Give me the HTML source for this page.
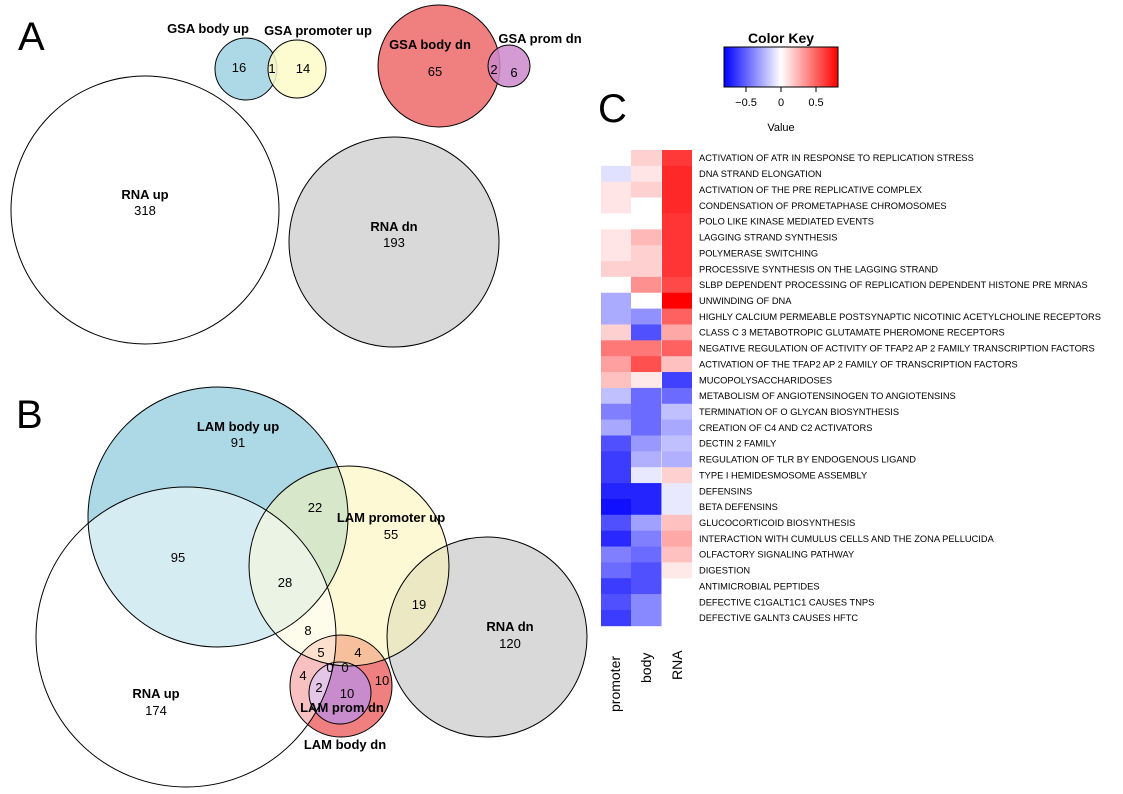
<!DOCTYPE html>
<html><head><meta charset="utf-8"><style>
html,body{margin:0;padding:0;background:#fff}
svg{display:block;font-family:"Liberation Sans",sans-serif}
</style></head><body>
<svg width="1123" height="794" viewBox="0 0 1123 794" xmlns="http://www.w3.org/2000/svg">
<defs><linearGradient id="ck" x1="0" x2="1" y1="0" y2="0">
<stop offset="0" stop-color="#0000ff"/><stop offset="0.5" stop-color="#ffffff"/><stop offset="1" stop-color="#ff0000"/></linearGradient></defs>
<g font-size="40"><text x="18" y="50">A</text><text x="16" y="428">B</text><text x="598" y="122">C</text></g>

<!-- Panel A -->
<g stroke="#000" stroke-width="1">
<circle cx="145" cy="210" r="134" fill="#fff"/>
<circle cx="394" cy="242" r="105" fill="#d9d9d9"/>
<circle cx="246" cy="69" r="31" fill="#add8e6"/>
<circle cx="297" cy="69" r="29" fill="#fdfac8" fill-opacity="0.85"/>
<circle cx="439" cy="66" r="61" fill="#f08080"/>
<circle cx="509" cy="66" r="21" fill="#cc88cc" fill-opacity="0.85"/>
</g>
<g font-size="13" text-anchor="middle">
<text x="208" y="33" font-weight="bold">GSA body up</text>
<text x="318" y="35" font-weight="bold">GSA promoter up</text>
<text x="239" y="72">16</text><text x="272" y="73">1</text><text x="303" y="73">14</text>
<text x="430" y="49" font-weight="bold">GSA body dn</text>
<text x="540" y="43" font-weight="bold">GSA prom dn</text>
<text x="435" y="76">65</text><text x="494" y="74">2</text><text x="514" y="77">6</text>
<text x="145" y="199" font-weight="bold">RNA up</text><text x="145" y="215">318</text>
<text x="394" y="231" font-weight="bold">RNA dn</text><text x="394" y="247">193</text>
</g>

<!-- Panel B -->
<circle cx="218" cy="517" r="130" fill="#add8e6"/>
<circle cx="487" cy="637" r="100" fill="#d9d9d9"/>
<circle cx="341" cy="686" r="51" fill="#f08080"/>
<circle cx="340" cy="693" r="31" fill="#c88ccc"/>
<circle cx="349" cy="566" r="100" fill="#faf4b0" fill-opacity="0.55"/>
<circle cx="186" cy="637" r="150" fill="#fff" fill-opacity="0.5"/>
<g stroke="#000" stroke-width="1" fill="none">
<circle cx="218" cy="517" r="130"/>
<circle cx="487" cy="637" r="100"/>
<circle cx="341" cy="686" r="51"/>
<circle cx="340" cy="693" r="31"/>
<circle cx="349" cy="566" r="100"/>
<circle cx="186" cy="637" r="150"/>
</g>
<g font-size="13" text-anchor="middle">
<text x="238" y="431" font-weight="bold">LAM body up</text><text x="238" y="447">91</text>
<text x="391" y="522" font-weight="bold">LAM promoter up</text><text x="391" y="539">55</text>
<text x="315" y="512">22</text><text x="178" y="562">95</text><text x="285" y="587">28</text>
<text x="419" y="609">19</text><text x="308" y="635">8</text>
<text x="510" y="631" font-weight="bold">RNA dn</text><text x="510" y="648">120</text>
<text x="156" y="698" font-weight="bold">RNA up</text><text x="156" y="715">174</text>
<text x="321" y="657">5</text><text x="358" y="657">4</text>
<text x="330" y="672">0</text><text x="345" y="672">0</text>
<text x="303" y="680">4</text><text x="319" y="692">2</text><text x="347" y="698">10</text><text x="382" y="685">10</text>
<text x="342" y="712" font-weight="bold">LAM prom dn</text>
<text x="345" y="749" font-weight="bold">LAM body dn</text>
</g>

<!-- Color key -->
<text x="781" y="43" font-size="14" font-weight="bold" text-anchor="middle">Color Key</text>
<rect x="724" y="47" width="114" height="40" fill="url(#ck)" stroke="#000"/>
<g stroke="#000"><line x1="746" y1="87" x2="746" y2="92"/><line x1="781" y1="87" x2="781" y2="92"/><line x1="816" y1="87" x2="816" y2="92"/></g>
<g font-size="11" text-anchor="middle"><text x="746" y="106">−0.5</text><text x="781" y="106">0</text><text x="816" y="106">0.5</text><text x="781" y="131">Value</text></g>

<!-- Heatmap -->
<g id="hm"></g>
<g font-size="9.3" id="lab"></g>
<g font-size="14" text-anchor="start">
<text transform="translate(620,712) rotate(-90)">promoter</text>
<text transform="translate(651,683) rotate(-90)">body</text>
<text transform="translate(682,680) rotate(-90)">RNA</text>
</g>
<script>
var d=[
["ACTIVATION OF ATR IN RESPONSE TO REPLICATION STRESS","#fff","#ffd0d0","#ff3838"],
["DNA STRAND ELONGATION","#e0e0ff","#ffe5e5","#ff2828"],
["ACTIVATION OF THE PRE REPLICATIVE COMPLEX","#ffe5e5","#ffd0d0","#ff2828"],
["CONDENSATION OF PROMETAPHASE CHROMOSOMES","#ffe5e5","#fff","#ff2828"],
["POLO LIKE KINASE MEDIATED EVENTS","#fff","#fff","#ff3535"],
["LAGGING STRAND SYNTHESIS","#ffe5e5","#ffb8b8","#ff3535"],
["POLYMERASE SWITCHING","#ffe5e5","#ffd0d0","#ff3535"],
["PROCESSIVE SYNTHESIS ON THE LAGGING STRAND","#ffd0d0","#ffd0d0","#ff3535"],
["SLBP DEPENDENT PROCESSING OF REPLICATION DEPENDENT HISTONE PRE MRNAS","#fff","#ff9090","#ff4848"],
["UNWINDING OF DNA","#aaaaff","#fff","#ff0000"],
["HIGHLY CALCIUM PERMEABLE POSTSYNAPTIC NICOTINIC ACETYLCHOLINE RECEPTORS","#aaaaff","#9090ff","#ff6060"],
["CLASS C 3 METABOTROPIC GLUTAMATE PHEROMONE RECEPTORS","#ffd0d0","#5050ff","#ffa8a8"],
["NEGATIVE REGULATION OF ACTIVITY OF TFAP2 AP 2 FAMILY TRANSCRIPTION FACTORS","#ff7878","#ff7878","#ff6060"],
["ACTIVATION OF THE TFAP2 AP 2 FAMILY OF TRANSCRIPTION FACTORS","#ffa0a0","#ff5050","#ffc0c0"],
["MUCOPOLYSACCHARIDOSES","#ffc0c0","#ffe8e8","#4040ff"],
["METABOLISM OF ANGIOTENSINOGEN TO ANGIOTENSINS","#c0c0ff","#6b6bff","#6b6bff"],
["TERMINATION OF O GLYCAN BIOSYNTHESIS","#8080ff","#6b6bff","#c0c0ff"],
["CREATION OF C4 AND C2 ACTIVATORS","#a8a8ff","#6b6bff","#a8a8ff"],
["DECTIN 2 FAMILY","#5050ff","#9898ff","#c0c0ff"],
["REGULATION OF TLR BY ENDOGENOUS LIGAND","#3c3cff","#b0b0ff","#b0b0ff"],
["TYPE I HEMIDESMOSOME ASSEMBLY","#3c3cff","#e8e8ff","#ffd0d0"],
["DEFENSINS","#2424ff","#2424ff","#e8e8ff"],
["BETA DEFENSINS","#1010ff","#2424ff","#e8e8ff"],
["GLUCOCORTICOID BIOSYNTHESIS","#5050ff","#a0a0ff","#ffc0c0"],
["INTERACTION WITH CUMULUS CELLS AND THE ZONA PELLUCIDA","#2828ff","#8080ff","#ffa8a8"],
["OLFACTORY SIGNALING PATHWAY","#8080ff","#6b6bff","#ffc0c0"],
["DIGESTION","#6b6bff","#5050ff","#ffe8e8"],
["ANTIMICROBIAL PEPTIDES","#3c3cff","#5050ff","#fff"],
["DEFECTIVE C1GALT1C1 CAUSES TNPS","#5050ff","#8888ff","#fff"],
["DEFECTIVE GALNT3 CAUSES HFTC","#3c3cff","#8888ff","#fff"]];
var ns="http://www.w3.org/2000/svg",hm=document.getElementById("hm"),lab=document.getElementById("lab");
var xs=[601,631,662],h=15.86;
d.forEach(function(r,i){var y=150+h*i;
for(var j=0;j<3;j++){var e=document.createElementNS(ns,"rect");e.setAttribute("x",xs[j]);e.setAttribute("y",y.toFixed(2));e.setAttribute("width",j==2?30:30.5);e.setAttribute("height",h+0.4);e.setAttribute("fill",r[j+1]);hm.appendChild(e);}
var t=document.createElementNS(ns,"text");t.setAttribute("x",699);t.setAttribute("y",(y+h/2+3.3).toFixed(2));t.textContent=r[0];lab.appendChild(t);});
</script>
</svg>
</body></html>
